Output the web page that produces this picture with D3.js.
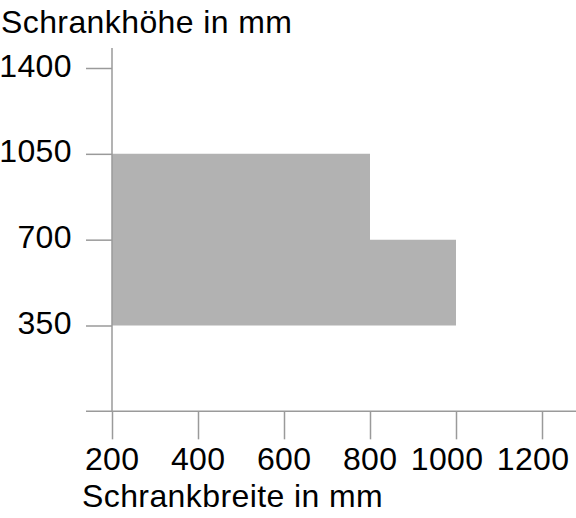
<!DOCTYPE html>
<html>
<head>
<meta charset="utf-8">
<script src="https://cdn.jsdelivr.net/npm/d3@7"></script>
<style>
  body { margin: 0; background: #fff; }
  text { font-family: "Liberation Sans", Arial, sans-serif; font-size: 32px; fill: #000; letter-spacing: 0.4px; }
</style>
</head>
<body>
<div id="chart"></div>
<script>
// Schrankbreite (Stufen) und zugehörige maximale Höhe
const breite = [200, 800, 1000];
const hoeheMax = [1050, 700, 700];
const hoeheMin = 350;

const xTicks = [200, 400, 600, 800, 1000, 1200];
const yTicks = [350, 700, 1050, 1400];

const width = 576;
const height = 518;

const svg = d3.select("#chart").append("svg")
    .attr("width", width)
    .attr("height", height);

const x = d3.scaleLinear().domain([200, 1200]).range([112, 542]);
const y = d3.scaleLinear().domain([350, 1400]).range([325.5, 68]);

const gray = "#9a9a9a";
const fmt = d3.format("d");

// Fläche
const area = d3.area()
    .curve(d3.curveStepAfter)
    .x(d => x(d[0]))
    .y0(y(hoeheMin))
    .y1(d => y(d[1]));

svg.append("path")
    .datum(breite.map((b, i) => [b, hoeheMax[i]]))
    .attr("d", area)
    .attr("fill", "#b2b2b2");

// x-Achse
const xAxis = svg.append("g")
    .attr("transform", `translate(0,${y(0)})`)
    .call(d3.axisBottom(x).tickValues(xTicks).tickFormat(fmt).tickSize(28).tickSizeOuter(0));
xAxis.select(".domain").remove();
xAxis.selectAll(".tick line").attr("stroke", gray).attr("stroke-width", 1.5);
xAxis.selectAll(".tick text")
    .attr("y", 470 - y(0))
    .attr("dy", 0)
    .attr("x", 27)
    .attr("text-anchor", "end")
    .attr("fill", "#000");

svg.append("line")
    .attr("x1", 86).attr("x2", width)
    .attr("y1", y(0)).attr("y2", y(0))
    .attr("stroke", gray).attr("stroke-width", 1.5);

// y-Achse
const yAxis = svg.append("g")
    .attr("transform", `translate(${x(200)},0)`)
    .call(d3.axisLeft(y).tickValues(yTicks).tickFormat(fmt).tickSize(26).tickSizeOuter(0));
yAxis.select(".domain").remove();
yAxis.selectAll(".tick line").attr("stroke", gray).attr("stroke-width", 1.5);
yAxis.selectAll(".tick text")
    .attr("x", -40)
    .attr("dy", 8)
    .attr("text-anchor", "end")
    .attr("fill", "#000");

svg.append("line")
    .attr("x1", x(200)).attr("x2", x(200))
    .attr("y1", 48).attr("y2", y(0))
    .attr("stroke", gray).attr("stroke-width", 1.5);

// Achsentitel
svg.append("text")
    .attr("x", 1)
    .attr("y", 33)
    .text("Schrankhöhe in mm");

svg.append("text")
    .attr("x", 82)
    .attr("y", 507)
    .text("Schrankbreite in mm");
</script>
</body>
</html>
